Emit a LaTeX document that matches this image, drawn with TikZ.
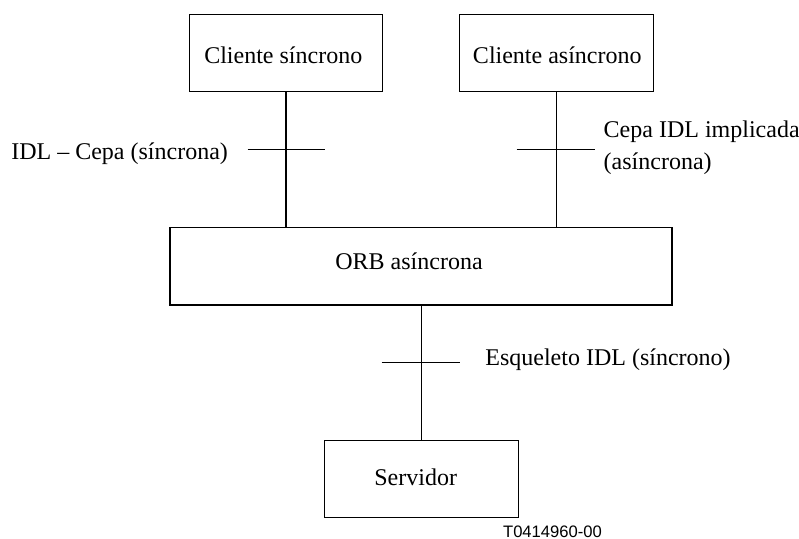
\documentclass[tikz,border=0pt]{standalone}
\usepackage{fontspec}
\setmainfont{Liberation Serif}
\newfontfamily\codefont{Liberation Sans}
\begin{document}
\begin{tikzpicture}[x=0.5pt,y=-0.5pt,
  box/.style={draw,line width=0.6pt,inner sep=0pt},
  txt/.style={inner sep=0pt,font=\fontsize{12}{15.8}\selectfont},
  wire/.style={line width=0.6pt},
  figcode/.style={inner sep=0pt,font=\codefont\fontsize{8.3}{10}\selectfont}]
\useasboundingbox (0,0) rectangle (799,538);

% boxes
\node[box,minimum width=96.7pt,minimum height=38.7pt] (csync) at (286,53) {};
\node[box,minimum width=97pt,minimum height=38.7pt] (casync) at (556.3,53) {};
\node[box,minimum width=251pt,minimum height=38.85pt] (orb) at (421,266.2) {};
\node[box,minimum width=97.35pt,minimum height=38.5pt] (srv) at (421.5,479.2) {};

% box texts
\node[txt,anchor=base] (csynct) at (283.3,63.3) {Cliente síncrono};
\node[txt,anchor=base] (casynct) at (557.3,63.3) {Cliente asíncrono};
\node[txt,anchor=base] (orbt) at (409,269.3) {ORB asíncrona};
\node[txt,anchor=base] (srvt) at (415.7,485) {Servidor};

% links
\draw[wire] (csync.south) -- (csync.south |- orb.north);
\draw[wire] (casync.south) -- (casync.south |- orb.north);
\draw[wire] (srv.north) -- (srv.north |- orb.south);

% interface ticks
\coordinate (t1a) at (247.5,149.5);
\coordinate (t1b) at (325,149.5);
\coordinate (t2a) at (516.7,149.5);
\coordinate (t2b) at (595,149.5);
\coordinate (t3a) at (381.7,362.7);
\coordinate (t3b) at (460,362.7);
\draw[wire] (t1a) -- (t1b);
\draw[wire] (t2a) -- (t2b);
\draw[wire] (t3a) -- (t3b);

% interface labels
\node[txt,anchor=base east] (l1) at (228.3,159.3) {IDL -- Cepa (síncrona)};
\node[txt,anchor=base west] (l2a) at (603.3,137.5) {Cepa IDL implicada};
\node[txt,anchor=base west] (l2b) at (603.3,169.3) {(asíncrona)};
\node[txt,anchor=base west] (l3) at (485,365) {Esqueleto IDL (síncrono)};

% figure code
\node[figcode,anchor=base] (code) at (552.5,537) {T0414960-00};
\end{tikzpicture}
\end{document}
